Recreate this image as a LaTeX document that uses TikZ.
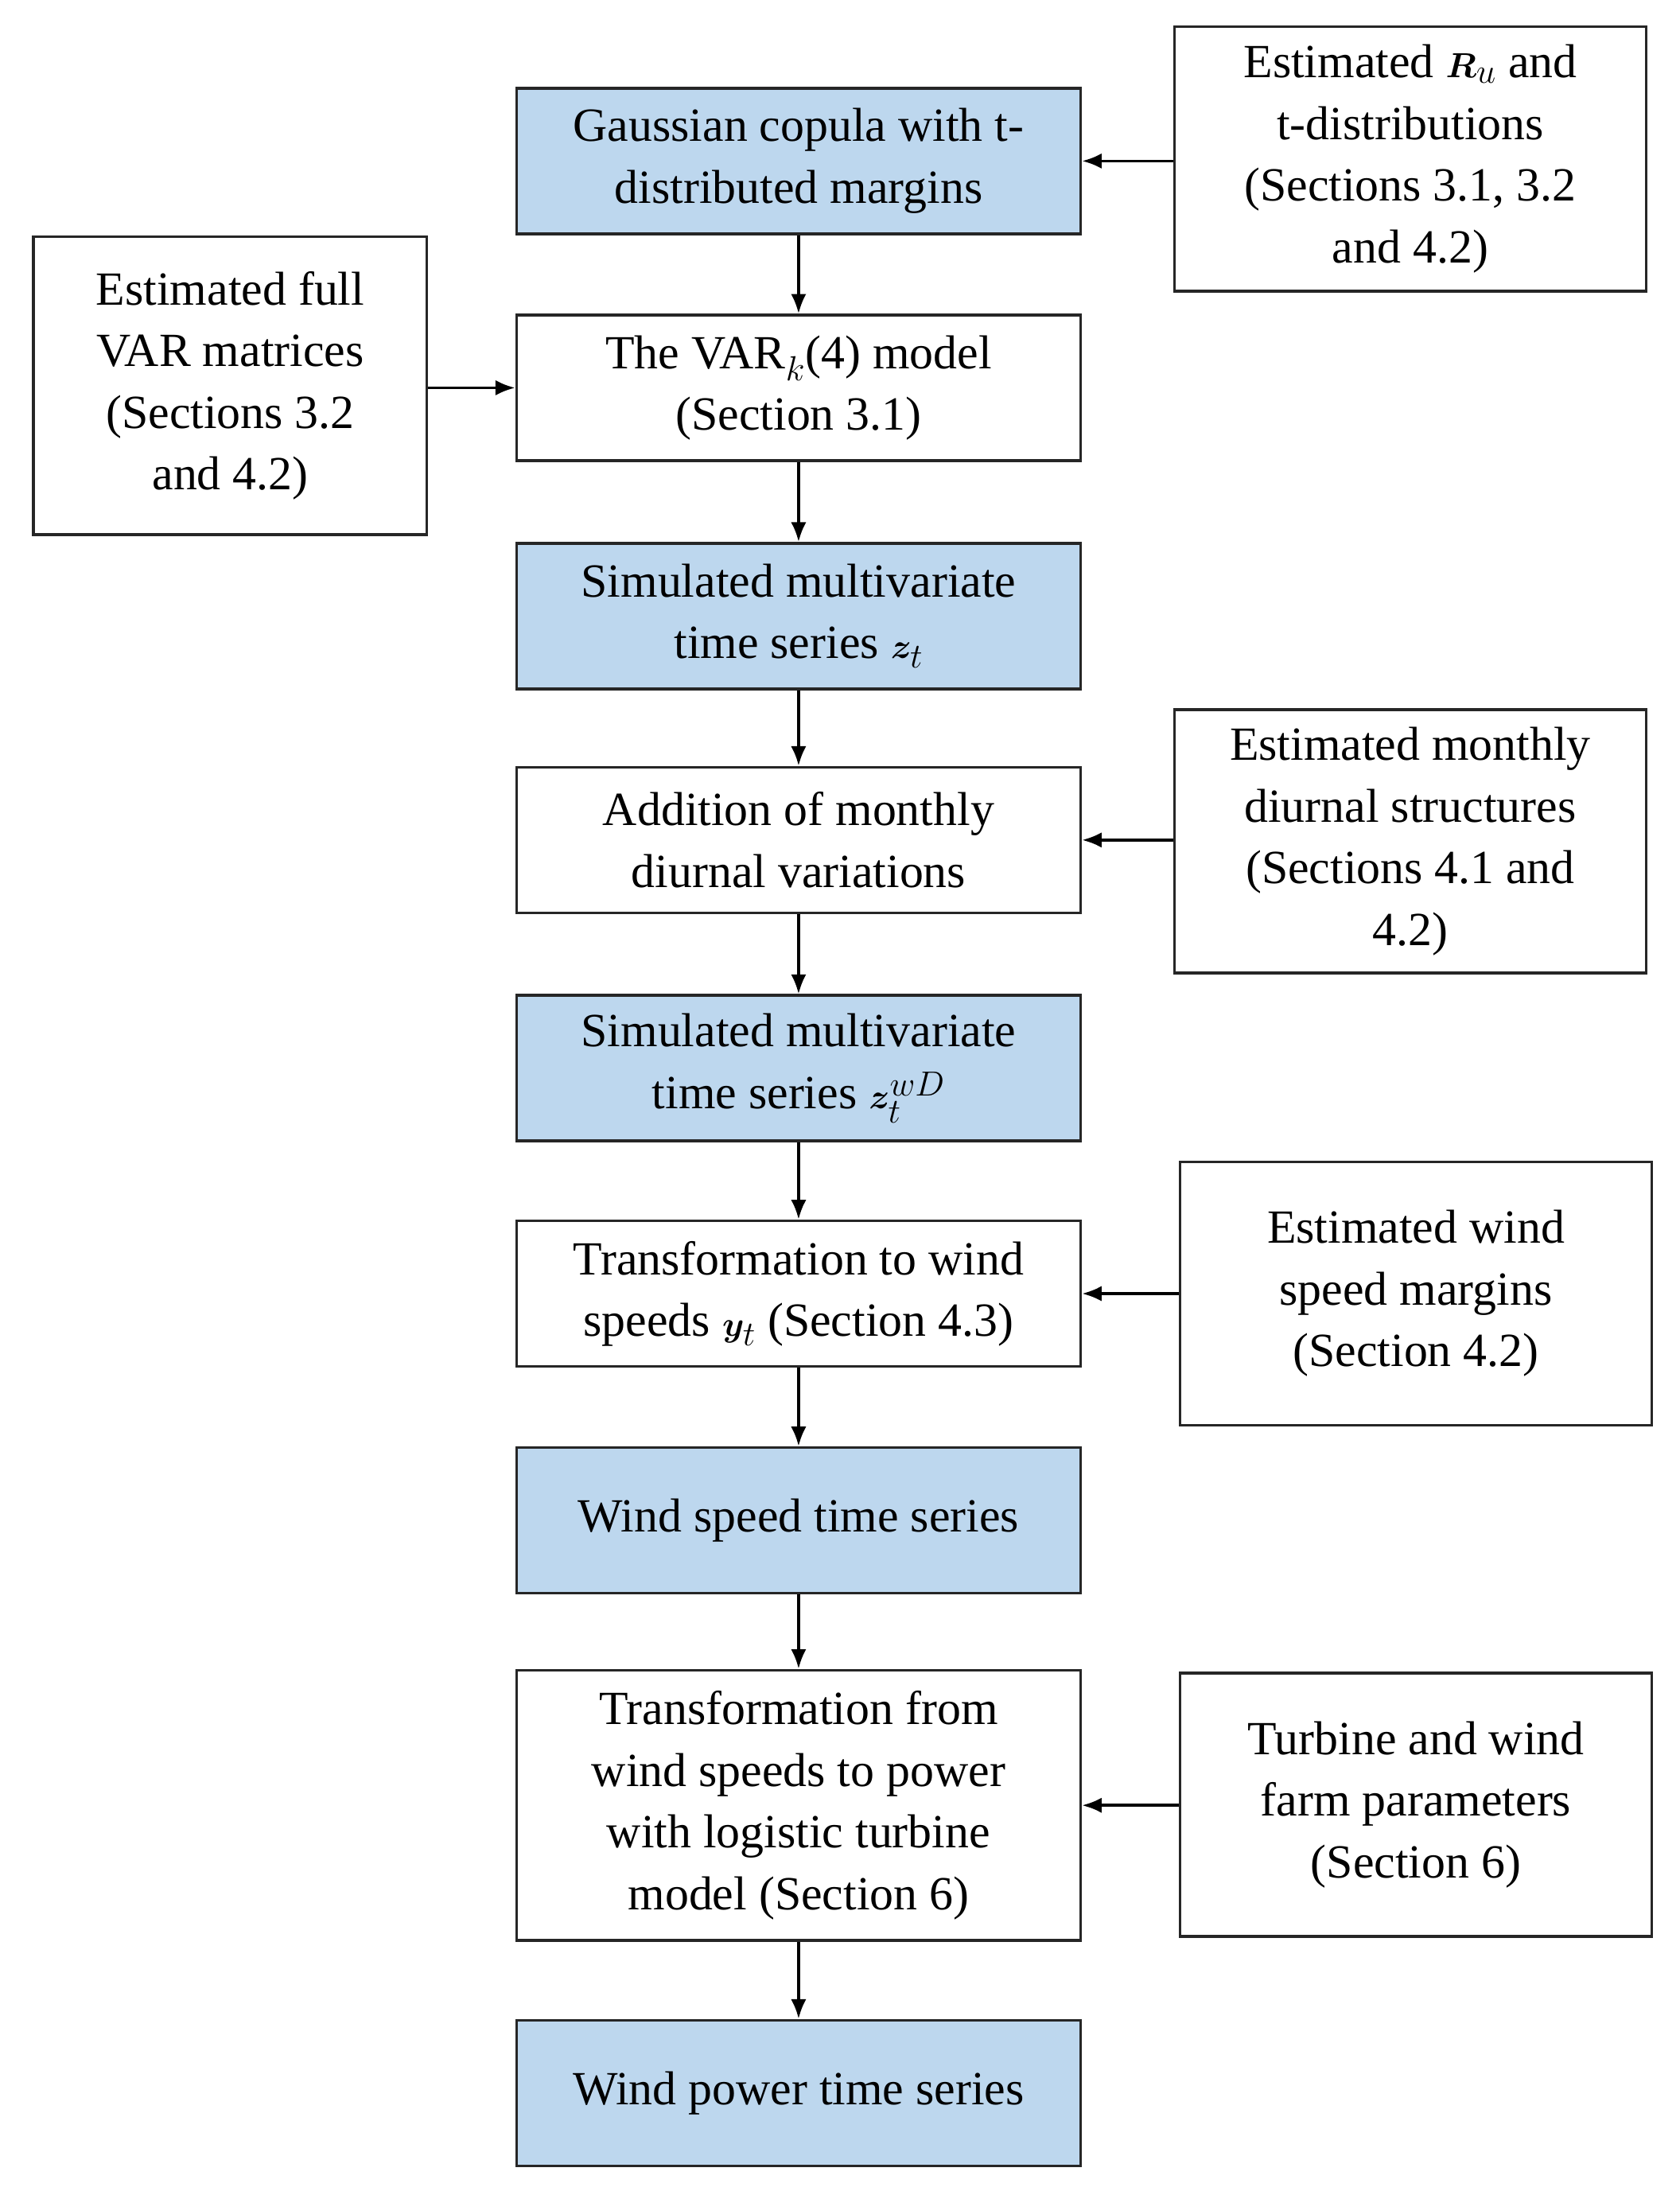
\documentclass[tikz,border=0pt]{standalone}
\usepackage{amsmath,bm}
\usepackage{fontspec}
\setmainfont{Liberation Serif}
\usetikzlibrary{arrows.meta}
\definecolor{bl}{RGB}{189,215,238}
\begin{document}
\begin{tikzpicture}[x=1pt,y=-1pt,
  box/.style={draw=black!85,line width=2pt,align=center,inner sep=0pt,
    font=\fontsize{34}{44}\selectfont,minimum width=403pt,minimum height=104pt},
  blue/.style={box,fill=bl},
  side/.style={box,minimum width=337pt,minimum height=188pt},
  arr/.style={line width=2pt,-{Latex[length=14pt,width=11pt]}}]
\useasboundingbox (0,0) rectangle (1200,1565);
\node[blue] (g) at (570.5,115) {Gaussian copula with t-\\distributed margins};
\node[side,minimum height=189pt] (ru) at (1007.5,113.5) {Estimated $\bm{R}_u$ and\\t-distributions\\(Sections 3.1, 3.2\\and 4.2)};
\node[box] (var) at (570.5,277) {The VAR$_k$(4) model\\(Section 3.1)};
\node[side,minimum width=281pt,minimum height=213pt] (fv) at (164.5,275.5) {Estimated full\\VAR matrices\\(Sections 3.2\\and 4.2)};
\node[blue] (z) at (570.5,440) {Simulated multivariate\\time series $\bm{z}_t$};
\node[box] (add) at (570.5,600) {Addition of monthly\\diurnal variations};
\node[side] (mo) at (1007.5,601) {Estimated monthly\\diurnal structures\\(Sections 4.1 and\\4.2)};
\node[blue] (zw) at (570.5,763) {Simulated multivariate\\time series $\bm{z}_t^{wD}$};
\node[box] (tw) at (570.5,924) {Transformation to wind\\speeds $\bm{y}_t$ (Section 4.3)};
\node[side] (wm) at (1011.5,924) {Estimated wind\\speed margins\\(Section 4.2)};
\node[blue] (ws) at (570.5,1086) {Wind speed time series};
\node[box,minimum height=193pt] (tp) at (570.5,1289.5) {Transformation from\\wind speeds to power\\with logistic turbine\\model (Section 6)};
\node[side] (tu) at (1011.5,1289) {Turbine and wind\\farm parameters\\(Section 6)};
\node[blue] (wp) at (570.5,1495) {Wind power time series};
\draw[arr] (g) -- (var);
\draw[arr] (var) -- (z);
\draw[arr] (z) -- (add);
\draw[arr] (add) -- (zw);
\draw[arr] (zw) -- (tw);
\draw[arr] (tw) -- (ws);
\draw[arr] (ws) -- (tp);
\draw[arr] (tp) -- (wp);
\draw[arr] (ru.west |- g) -- (g.east);
\draw[arr] (fv.east |- var) -- (var.west);
\draw[arr] (mo.west |- add) -- (add.east);
\draw[arr] (wm.west |- tw) -- (tw.east);
\draw[arr] (tu.west |- tp) -- (tp.east);
\end{tikzpicture}
\end{document}
